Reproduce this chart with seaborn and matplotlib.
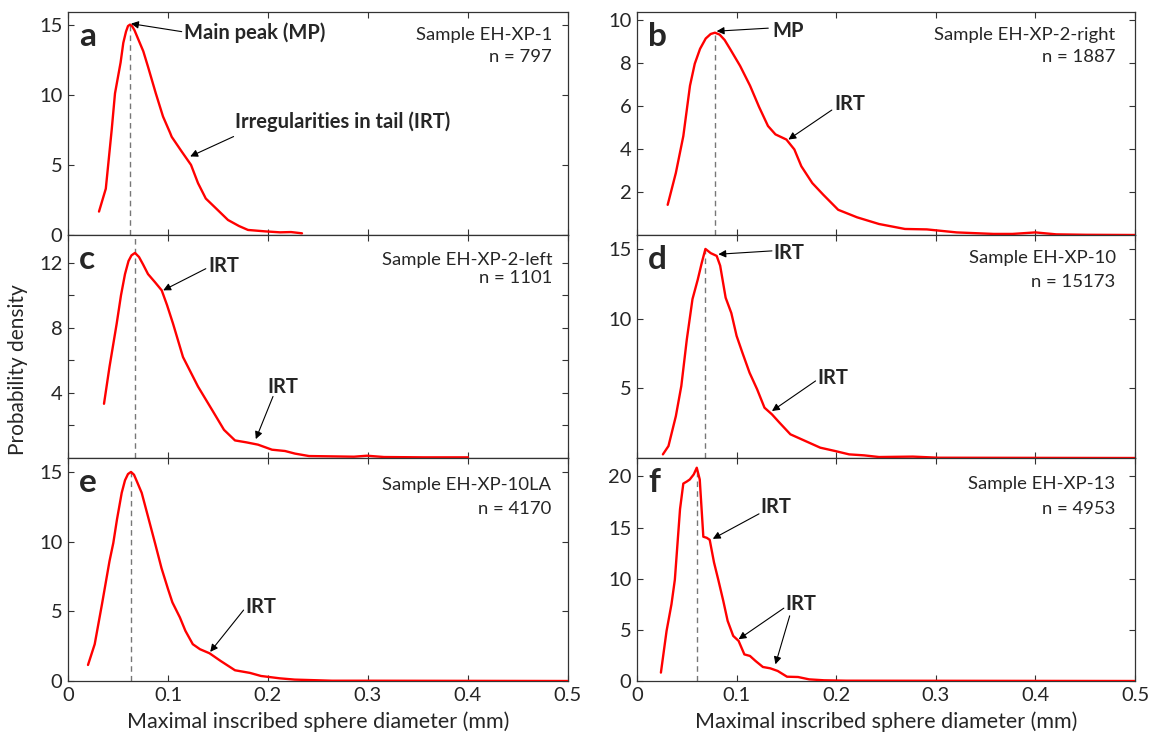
import pandas as pd
import matplotlib
matplotlib.use('Agg')
import matplotlib.pyplot as plt
import seaborn as sns

a_x = [0.031, 0.0378, 0.0437, 0.047, 0.0526, 0.0553, 0.058, 0.060, 0.062, 0.064, 0.0665, 0.070,
       0.0753, 0.080, 0.0878, 0.095, 0.102, 0.1037, 0.1137, 0.123, 0.130, 0.1378, 0.149, 0.160,
       0.171, 0.180, 0.197, 0.212, 0.223, 0.234]
a_y = [1.67, 3.3, 7.5, 10.1, 12.3, 13.7, 14.5, 14.9, 15.0, 14.9, 14.6, 14.0,
       13.1, 12.0, 10.1, 8.45, 7.3, 7.0, 5.95, 5.0, 3.7, 2.6, 1.83, 1.07,
       0.64, 0.36, 0.26, 0.19, 0.21, 0.12]

b_x = [0.0308, 0.039, 0.0465, 0.0532, 0.0580, 0.0633, 0.0690, 0.0740, 0.0783, 0.0830, 0.0880, 0.0934,
       0.1035, 0.1135, 0.1225, 0.1315, 0.139, 0.150, 0.158, 0.165, 0.176, 0.187, 0.202, 0.221,
       0.243, 0.269, 0.291, 0.321, 0.358, 0.377, 0.400, 0.421, 0.451, 0.5]
b_y = [1.4, 2.88, 4.59, 6.93, 7.95, 8.64, 9.12, 9.33, 9.39, 9.3, 9.05, 8.64,
       7.85, 6.93, 5.95, 5.06, 4.67, 4.43, 3.97, 3.19, 2.41, 1.87, 1.17, 0.82,
       0.51, 0.28, 0.26, 0.12, 0.05, 0.05, 0.12, 0.03, 0.01, 0.0]

c_x = [0.036, 0.0415, 0.0487, 0.053, 0.057, 0.0605, 0.0635, 0.067, 0.071, 0.075, 0.080, 0.087,
       0.0937, 0.099, 0.105, 0.115, 0.130, 0.145, 0.156, 0.167, 0.1785, 0.190, 0.204, 0.217,
       0.227, 0.241, 0.264, 0.286, 0.299, 0.316, 0.356, 0.400]
c_y = [3.33, 5.6, 8.26, 10.0, 11.3, 12.1, 12.45, 12.6, 12.35, 11.9, 11.3, 10.8,
       10.3, 9.4, 8.26, 6.2, 4.39, 2.86, 1.73, 1.08, 0.96, 0.82, 0.51, 0.43,
       0.27, 0.12, 0.10, 0.08, 0.14, 0.06, 0.04, 0.04]

d_x = [0.026, 0.0316, 0.039, 0.0445, 0.050, 0.0557, 0.061, 0.065, 0.0687, 0.074, 0.080, 0.0835,
       0.089, 0.0947, 0.100, 0.1058, 0.113, 0.1206, 0.128, 0.1355, 0.143, 0.154, 0.169, 0.184,
       0.199, 0.213, 0.228, 0.243, 0.277, 0.3025, 0.5]
d_y = [0.26, 0.86, 3.0, 5.17, 8.5, 11.4, 12.8, 14.0, 15.0, 14.7, 14.5, 13.8,
       11.5, 10.4, 8.76, 7.56, 6.12, 4.93, 3.61, 3.13, 2.54, 1.7, 1.22, 0.74,
       0.5, 0.26, 0.19, 0.07, 0.1, 0.02, 0.0]

e_x = [0.020, 0.0267, 0.034, 0.0415, 0.0453, 0.049, 0.0537, 0.057, 0.060, 0.063, 0.066, 0.069,
       0.0737, 0.080, 0.087, 0.0935, 0.100, 0.1044, 0.1119, 0.1174, 0.1248, 0.132, 0.1415, 0.1526,
       0.167, 0.182, 0.193, 0.212, 0.2267, 0.264, 0.300, 0.5]
e_y = [1.15, 2.64, 5.52, 8.6, 9.9, 11.6, 13.5, 14.4, 14.85, 15.0, 14.8, 14.3,
       13.5, 11.8, 9.9, 8.1, 6.6, 5.64, 4.56, 3.6, 2.64, 2.28, 1.99, 1.44,
       0.77, 0.58, 0.36, 0.19, 0.1, 0.02, 0.02, 0.0]

f_x = [0.024, 0.0297, 0.0346, 0.038, 0.0432, 0.0465, 0.050, 0.053, 0.057, 0.060, 0.063, 0.0666,
       0.070, 0.073, 0.0773, 0.0816, 0.0866, 0.091, 0.0966, 0.102, 0.1078, 0.1134, 0.119, 0.1264,
       0.1338, 0.1413, 0.1506, 0.1617, 0.1729, 0.1877, 0.210, 0.5]
f_y = [0.82, 4.9, 7.5, 9.9, 16.8, 19.3, 19.5, 19.7, 20.2, 20.85, 19.7, 14.1,
       14.0, 13.8, 11.6, 9.9, 7.84, 5.88, 4.41, 3.92, 2.6, 2.45, 1.96, 1.37,
       1.24, 0.98, 0.42, 0.39, 0.16, 0.07, 0.03, 0.0]

panel_letters = ['a', 'b', 'c', 'd', 'e', 'f']
sample_names = ['Sample EH-XP-1', 'Sample EH-XP-2-right', 'Sample EH-XP-2-left',
                'Sample EH-XP-10', 'Sample EH-XP-10LA', 'Sample EH-XP-13']
sample_sizes = [797, 1887, 1101, 15173, 4170, 4953]
peak_x = [0.062, 0.0783, 0.067, 0.0687, 0.063, 0.060]
y_max = [15.9, 10.35, 13.7, 16.0, 16.0, 21.8]
y_ticks = [[0, 5, 10, 15], [2, 4, 6, 8, 10], [2, 4, 6, 8, 10, 12],
           [5, 10, 15], [0, 5, 10, 15], [0, 5, 10, 15, 20]]
y_tick_labels = [['0', '5', '10', '15'], ['2', '4', '6', '8', '10'], ['', '4', '', '8', '', '12'],
                 ['5', '10', '15'], ['0', '5', '10', '15'], ['0', '5', '10', '15', '20']]
x_ticks = [0, 0.1, 0.2, 0.3, 0.4, 0.5]
x_tick_labels = ['0', '0.1', '0.2', '0.3', '0.4', '0.5']

curves = [(a_x, a_y), (b_x, b_y), (c_x, c_y), (d_x, d_y), (e_x, e_y), (f_x, f_y)]

sns.set_theme(style='ticks')
plt.rcParams['font.family'] = ['Lato', 'DejaVu Sans']
plt.rcParams['xtick.direction'] = 'in'
plt.rcParams['ytick.direction'] = 'in'

fig = plt.figure(figsize=(11.51, 7.39), dpi=100)

W, H = 1151, 739
col_left = [68 / W, 637 / W]
col_width = [500 / W, 498 / W]
row_bottom = [1 - 235 / H, 1 - 458 / H, 1 - 681 / H]
row_height = 223 / H

# text label positions (axes fraction) for sample name / n
label_pos = [(0.968, 0.895, 0.80), (0.96, 0.895, 0.797), (0.969, 0.888, 0.806),
             (0.961, 0.895, 0.787), (0.967, 0.879, 0.771), (0.961, 0.883, 0.771)]

# annotations: (text, text position, [(tail, head), ...])
notes = [
    [('Main peak (MP)', (0.1156, 14.4), [((0.1137, 14.5), (0.063, 15.07))]),
     ('Irregularities in tail (IRT)', (0.1674, 8.1), [((0.1656, 7.02), (0.1222, 5.6))])],
    [('MP', (0.1355, 9.49), [((0.1318, 9.6), (0.080, 9.46))]),
     ('IRT', (0.198, 6.07), [((0.1956, 5.8), (0.152, 4.43))])],
    [('IRT', (0.1407, 11.78), [((0.1378, 11.63), (0.0952, 10.3))]),
     ('IRT', (0.1989, 4.39), [((0.205, 3.78), (0.1878, 1.16))])],
    [('IRT', (0.1373, 14.74), [((0.1355, 14.86), (0.0817, 14.62))]),
     ('IRT', (0.181, 5.77), [((0.1793, 5.53), (0.1355, 3.37))])],
    [('IRT', (0.1778, 5.33), [((0.1756, 5.09), (0.1422, 2.09))])],
    [('IRT', (0.1243, 17.0), [((0.1225, 16.34), (0.0761, 13.9))]),
     ('IRT', (0.1492, 7.52), [((0.1474, 7.12), (0.102, 4.08)), ((0.1533, 6.37), (0.139, 1.63))])],
]

for i in range(6):
    row, col = i // 2, i % 2
    ax = fig.add_axes([col_left[col], row_bottom[row], col_width[col], row_height])
    xs, ys = curves[i]
    df = pd.DataFrame({'x': xs, 'y': ys})

    # dashed line at the main peak
    peak_top = y_max[i] if i == 2 else max(ys)
    ax.plot([peak_x[i], peak_x[i]], [0, peak_top], ls=(0, (4, 3)), color='#777777', lw=1.0, zorder=1)

    sns.lineplot(data=df, x='x', y='y', ax=ax, color='#ff0000', lw=1.7, sort=False, zorder=3)

    ax.set_xlim(0, 0.5)
    ax.set_ylim(0, y_max[i])
    ax.set_xticks(x_ticks)
    ax.set_yticks(y_ticks[i])
    ax.set_yticklabels(y_tick_labels[i], fontsize=14.5)
    ax.tick_params(which='both', direction='in', top=True, right=True, length=4, width=0.8,
                   color='#333333', labelsize=14.5, pad=4)
    if row == 2:
        ax.set_xticklabels(x_tick_labels, fontsize=14.5)
        ax.set_xlabel('Maximal inscribed sphere diameter (mm)', fontsize=15.5, labelpad=6)
    else:
        ax.set_xticklabels([])
        ax.set_xlabel('')
    ax.set_ylabel('')
    for sp in ax.spines.values():
        sp.set_linewidth(0.9)
        sp.set_color('#333333')

    ax.text(0.022, 0.955, panel_letters[i], transform=ax.transAxes, fontsize=24,
            fontweight='bold', ha='left', va='top')
    lx, ly1, ly2 = label_pos[i]
    ax.text(lx, ly1, sample_names[i], transform=ax.transAxes, fontsize=13.3,
            ha='right', va='center')
    ax.text(lx, ly2, f'n = {sample_sizes[i]}', transform=ax.transAxes, fontsize=13.3,
            ha='right', va='center')

    for txt, pos, arrows in notes[i]:
        ax.text(pos[0], pos[1], txt, fontsize=14.5, fontweight='bold', ha='left', va='center')
        for tail, head in arrows:
            ax.annotate('', xy=head, xytext=tail,
                        arrowprops=dict(arrowstyle='-|>', color='black', lw=0.8,
                                        mutation_scale=11, shrinkA=0, shrinkB=0))

fig.text(0.016, 0.5, 'Probability density', rotation=90, ha='center', va='center', fontsize=15)

plt.savefig('out.png', dpi=100)
